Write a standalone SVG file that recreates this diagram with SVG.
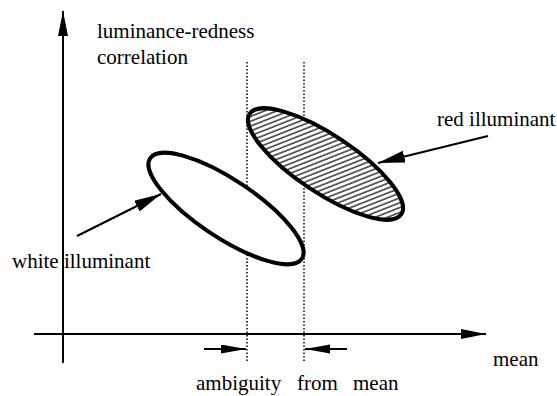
<svg xmlns="http://www.w3.org/2000/svg" width="557" height="396" viewBox="0 0 557 396">
<style>
.lbl{font-family:'Liberation Serif','Times New Roman',serif;font-size:21px;fill:#000}
.axis{stroke:#000;stroke-width:2;fill:none}
.arr{stroke:#000;stroke-width:2;fill:none}
.dot{stroke:#000;stroke-width:1.5;stroke-dasharray:1.5 2;fill:none}
.ell{stroke:#000;stroke-width:4}
</style>
<defs>
<marker id="head" markerUnits="userSpaceOnUse" markerWidth="26" markerHeight="12" refX="25" refY="5" orient="auto">
<path d="M0,0 L25,5 L0,10 z" fill="#000"/>
</marker>
<marker id="headS" markerUnits="userSpaceOnUse" markerWidth="26" markerHeight="12" refX="25" refY="4.5" orient="auto">
<path d="M0,0 L25,4.5 L0,9 z" fill="#000"/>
</marker>
<marker id="headL" markerUnits="userSpaceOnUse" markerWidth="28" markerHeight="14" refX="27" refY="6" orient="auto">
<path d="M0,0 L27,6 L0,12 z" fill="#000"/>
</marker>
<pattern id="hatch" width="10" height="4.5" patternUnits="userSpaceOnUse" patternTransform="rotate(-55)">
<rect width="10" height="4.5" fill="#fff"/>
<line x1="0" y1="1" x2="10" y2="1" stroke="#444" stroke-width="1.6"/>
</pattern>
</defs>

<g id="connectors">
<line class="axis" x1="63" y1="363" x2="63" y2="11" marker-end="url(#head)"/>
<line class="axis" x1="34" y1="334" x2="486" y2="334" marker-end="url(#head)"/>
<line class="dot" x1="247" y1="62" x2="247" y2="362"/>
<line class="dot" x1="304" y1="62" x2="304" y2="362"/>
<line class="arr" x1="204" y1="349" x2="246" y2="349" marker-end="url(#headS)"/>
<line class="arr" x1="347" y1="349" x2="305" y2="349" marker-end="url(#headS)"/>
<line class="arr" x1="488" y1="136" x2="378" y2="163" marker-end="url(#headL)"/>
<line class="arr" x1="77" y1="236" x2="161" y2="194" marker-end="url(#headL)"/>
</g>

<g id="white-ellipse">
<ellipse class="ell" cx="226" cy="208.5" rx="91" ry="29" transform="rotate(33.5 226 208.5)" fill="#fff"/>
</g>

<g id="red-ellipse">
<ellipse class="ell" cx="325.5" cy="164" rx="91" ry="29" transform="rotate(33.5 325.5 164)" fill="url(#hatch)"/>
</g>

<g id="labels" font-family="Liberation Serif, Times New Roman, serif" font-size="21">
<text class="lbl" x="97" y="38">luminance-redness</text>
<text class="lbl" x="97" y="64">correlation</text>
<text class="lbl" x="437" y="126">red illuminant</text>
<text class="lbl" x="12" y="268">white illuminant</text>
<text class="lbl" x="493" y="366">mean</text>
<text class="lbl" x="196" y="390">ambiguity</text>
<text class="lbl" x="297" y="390">from</text>
<text class="lbl" x="353" y="390">mean</text>
</g>
</svg>
